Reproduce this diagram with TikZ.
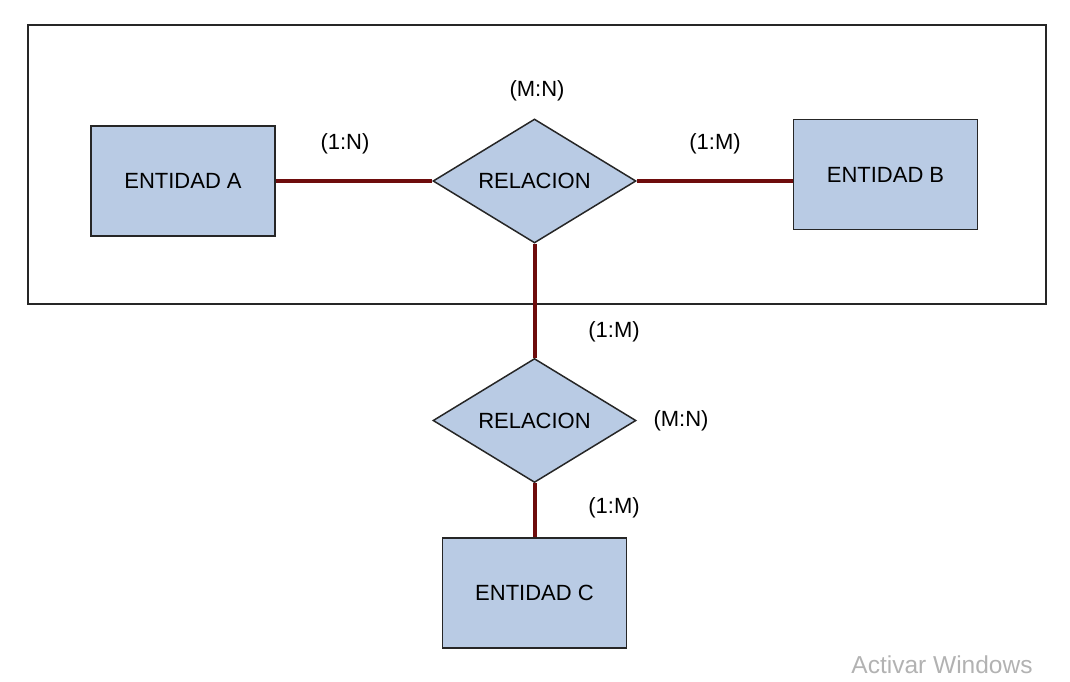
\documentclass[tikz,border=0pt]{standalone}
\usepackage{fontspec}
\setmainfont{Liberation Sans}
\usetikzlibrary{shapes.geometric}
\definecolor{boxfill}{HTML}{B9CBE4}
\definecolor{linkred}{HTML}{6E0C0C}
\begin{document}
\begin{tikzpicture}[x=1pt,y=-1pt,
  entity/.style={draw=black!85,line width=1.5pt,fill=boxfill,minimum width=184pt,minimum height=110pt,inner sep=0pt,font=\fontsize{22}{26}\selectfont},
  relation/.style={draw=black!85,line width=1.5pt,fill=boxfill,diamond,aspect=1.64,minimum width=203pt,minimum height=124pt,inner sep=0pt,font=\fontsize{22}{26}\selectfont},
  link/.style={draw=linkred,line width=4pt},
  card/.style={font=\fontsize{22}{26}\selectfont,inner sep=0pt}]
\useasboundingbox (0,0) rectangle (1070,682);
\node[draw=black!85,line width=1.5pt,minimum width=1018pt,minimum height=279pt,inner sep=0pt] (frame) at (537,164.5) {};
\node[relation] (r1) at (534.5,181) {RELACION};
\node[relation] (r2) at (534.5,420.5) {RELACION};
\node[entity] (a) at (183,181) {ENTIDAD A};
\node[entity] (b) at (885.5,174.5) {ENTIDAD B};
\node[entity] (c) at (534.5,593) {ENTIDAD C};
\draw[link] (a.east) -- (r1.west);
\draw[link] (r1.east) -- (r1.east -| b.west);
\draw[link] (r1.south) -- (r2.north);
\draw[link] (r2.south) -- (c.north);
\node[card] (l1) at (537,91) {(M:N)};
\node[card] (l2) at (345,144) {(1:N)};
\node[card] (l3) at (715,144) {(1:M)};
\node[card] (l4) at (614,332) {(1:M)};
\node[card] (l5) at (681,421) {(M:N)};
\node[card] (l6) at (614,508) {(1:M)};
\node[font=\fontsize{24.5}{28}\selectfont,text=black!30,inner sep=0pt] (wm) at (942,665) {Activar Windows};
\end{tikzpicture}
\end{document}
